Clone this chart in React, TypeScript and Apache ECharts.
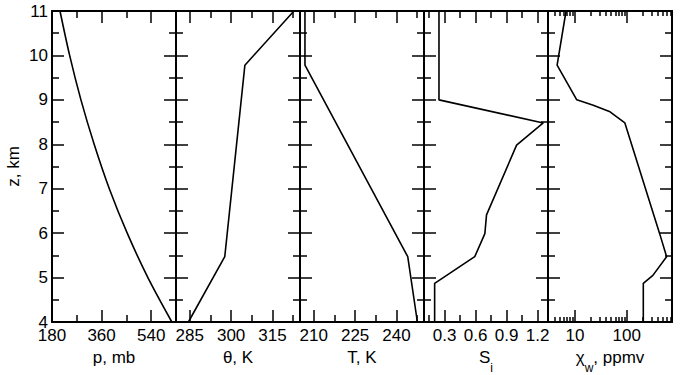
import React, { useEffect, useRef } from "react";
import * as echarts from "echarts";

// ---------- data ----------
// altitude range and ticks (km)
const zMin = 4;
const zMax = 11;

// Panel 1: pressure, mb
const pZ = [4, 5, 6, 7, 8, 9, 10, 11];
const pVals = [615, 528, 453, 388, 333, 285, 244, 209];
const pTickMajor = [180, 360, 540];
const pTickMinor = [270, 450];
const pLabels = [180, 360, 540];

// Panel 2: potential temperature, K
const thetaZ = [4, 5.47, 9.78, 11];
const thetaVals = [284.5, 297.7, 305.0, 322.8];
const thetaTickMajor = [285, 300, 315];
const thetaTickMinor = [292.5, 307.5, 322.5];
const thetaLabels = [285, 300, 315];

// Panel 3: temperature, K
const tZ = [4, 5.47, 9.78, 11];
const tVals = [247.6, 244.1, 206.8, 206.8];
const tTickMajor = [210, 225, 240];
const tTickMinor = [217.5, 232.5, 247.5];
const tLabels = [210, 225, 240];

// Panel 4: ice saturation ratio
const siZ = [4, 4.87, 5.47, 5.99, 6.41, 7.98, 8.48, 9, 11];
const siVals = [0.203, 0.203, 0.591, 0.689, 0.705, 0.996, 1.254, 0.245, 0.245];
const siTickMajor = [0.3, 0.6, 0.9, 1.2];
const siTickMinor = [0.15, 0.45, 0.75, 1.05];
const siLabels = [0.3, 0.6, 0.9, 1.2];

// Panel 5: water vapour mixing ratio, ppmv (log axis)
const chiZ = [4, 4.87, 5.05, 5.47, 6, 8.48, 8.73, 8.88, 9, 9.78, 11];
const chiVals = [209, 209, 320, 590, 430, 92, 47.5, 22.5, 10.8, 4.5, 6.7];
const chiRange = [3, 750];
const chiTickMajor = [10, 100];
const chiTickMinor = [4, 5, 6, 7, 8, 9, 20, 30, 40, 50, 60, 70, 80, 90, 200, 300, 400, 500, 600, 700];
const chiLabels = [10, 100];

// ---------- layout / style ----------
const FONT = "'Liberation Sans', Arial, Helvetica, sans-serif";
const FS = 17;
const GRID_LEFT = 52;
const GRID_W = 124;
const GRID_TOP = 11;
const GRID_H = 311;
const BLACK = "#000";

const lg = (v: number) => Math.log10(v);

type Panel = {
  min: number;
  max: number;
  majors: number[];
  minors: number[];
  labels: number[];
  fmt: (v: number) => string;
  name: string;
  minorLen: number;
  data: number[][];
  smooth: number | boolean;
};

const rich = {
  b: { fontSize: FS, fontFamily: FONT, color: BLACK, lineHeight: 19, verticalAlign: "top" },
  s: { fontSize: 12, fontFamily: FONT, color: BLACK, lineHeight: 25, verticalAlign: "bottom" },
};

export default function App() {
  const ref = useRef<HTMLDivElement>(null);

  useEffect(() => {
    if (!ref.current) return;
    const chart = echarts.init(ref.current, null, { renderer: "svg" });

    const panels: Panel[] = [
      {
        min: 180, max: 630, majors: pTickMajor, minors: pTickMinor, labels: pLabels,
        fmt: (v) => String(v), name: "{b|p, mb}", minorLen: 7,
        data: pZ.map((z, i) => [pVals[i], z]), smooth: 0.3,
      },
      {
        min: 280, max: 325, majors: thetaTickMajor, minors: thetaTickMinor, labels: thetaLabels,
        fmt: (v) => String(v), name: "{b|θ, K}", minorLen: 7,
        data: thetaZ.map((z, i) => [thetaVals[i], z]), smooth: false,
      },
      {
        min: 205, max: 250, majors: tTickMajor, minors: tTickMinor, labels: tLabels,
        fmt: (v) => String(v), name: "{b|T, K}", minorLen: 7,
        data: tZ.map((z, i) => [tVals[i], z]), smooth: false,
      },
      {
        min: 0.1, max: 1.3, majors: siTickMajor, minors: siTickMinor, labels: siLabels,
        fmt: (v) => v.toFixed(1), name: "{b|S}{s|i}", minorLen: 7,
        data: siZ.map((z, i) => [siVals[i], z]), smooth: false,
      },
      {
        min: lg(chiRange[0]), max: lg(chiRange[1]),
        majors: chiTickMajor.map(lg), minors: chiTickMinor.map(lg), labels: chiLabels.map(lg),
        fmt: (v) => String(Math.round(Math.pow(10, v))), name: "{b|χ}{s|w}{b|, ppmv}", minorLen: 5,
        data: chiZ.map((z, i) => [lg(chiVals[i]), z]), smooth: false,
      },
    ];

    const axisLineStyle = { color: BLACK, width: 2 };
    const tickLineStyle = { color: BLACK, width: 1.5 };

    const grid = panels.map((_, i) => ({
      left: GRID_LEFT + i * GRID_W,
      top: GRID_TOP,
      width: GRID_W,
      height: GRID_H,
      containLabel: false,
      outerBoundsMode: "none",
    }));

    const xAxis: any[] = [];
    panels.forEach((p, i) => {
      const mk = (pos: string, major: boolean, withLabel: boolean) => ({
        type: "value",
        gridIndex: i,
        position: pos,
        min: p.min,
        max: p.max,
        axisLine: { show: major, onZero: false, lineStyle: axisLineStyle },
        axisTick: {
          show: true,
          inside: true,
          length: major ? 12 : p.minorLen,
          customValues: major ? p.majors : p.minors,
          lineStyle: tickLineStyle,
        },
        axisLabel: withLabel
          ? {
              show: true,
              customValues: p.labels,
              formatter: (v: number) => p.fmt(v),
              fontSize: FS,
              fontFamily: FONT,
              color: BLACK,
              margin: 5,
            }
          : { show: false },
        splitLine: { show: false },
        name: withLabel ? p.name : "",
        nameLocation: "middle",
        nameGap: 17,
        nameTextStyle: { fontSize: FS, fontFamily: FONT, color: BLACK, rich },
      });
      xAxis.push(mk("bottom", true, true));
      xAxis.push(mk("bottom", false, false));
      xAxis.push(mk("top", true, false));
      xAxis.push(mk("top", false, false));
    });

    const yAxis: any[] = [];
    panels.forEach((_, i) => {
      const mk = (pos: string, withLabel: boolean) => ({
        type: "value",
        gridIndex: i,
        position: pos,
        min: zMin,
        max: zMax,
        interval: 1,
        axisLine: { show: true, onZero: false, lineStyle: axisLineStyle },
        axisTick: { show: true, inside: true, length: 12, lineStyle: tickLineStyle },
        minorTick: { show: true, splitNumber: 2, length: 7, lineStyle: tickLineStyle },
        axisLabel: withLabel
          ? { show: true, fontSize: FS, fontFamily: FONT, color: BLACK, margin: 4 }
          : { show: false },
        splitLine: { show: false },
        minorSplitLine: { show: false },
        name: withLabel ? "z, km" : "",
        nameLocation: "middle",
        nameRotate: 90,
        nameGap: 30,
        nameTextStyle: { fontSize: FS, fontFamily: FONT, color: BLACK },
      });
      yAxis.push(mk("left", i === 0));
      yAxis.push(mk("right", false));
    });

    const series = panels.map((p, i) => ({
      type: "line",
      xAxisIndex: 4 * i,
      yAxisIndex: 2 * i,
      data: p.data,
      symbol: "none",
      smooth: p.smooth,
      silent: true,
      clip: true,
      lineStyle: { color: BLACK, width: 1.6 },
    }));

    chart.setOption({
      animation: false,
      backgroundColor: "#fff",
      textStyle: { fontFamily: FONT },
      grid,
      xAxis,
      yAxis,
      series,
    } as any);

    return () => chart.dispose();
  }, []);

  return (
    <div
      ref={ref}
      style={{ position: "fixed", left: 0, top: 0, width: 683, height: 375, background: "#fff" }}
    />
  );
}
